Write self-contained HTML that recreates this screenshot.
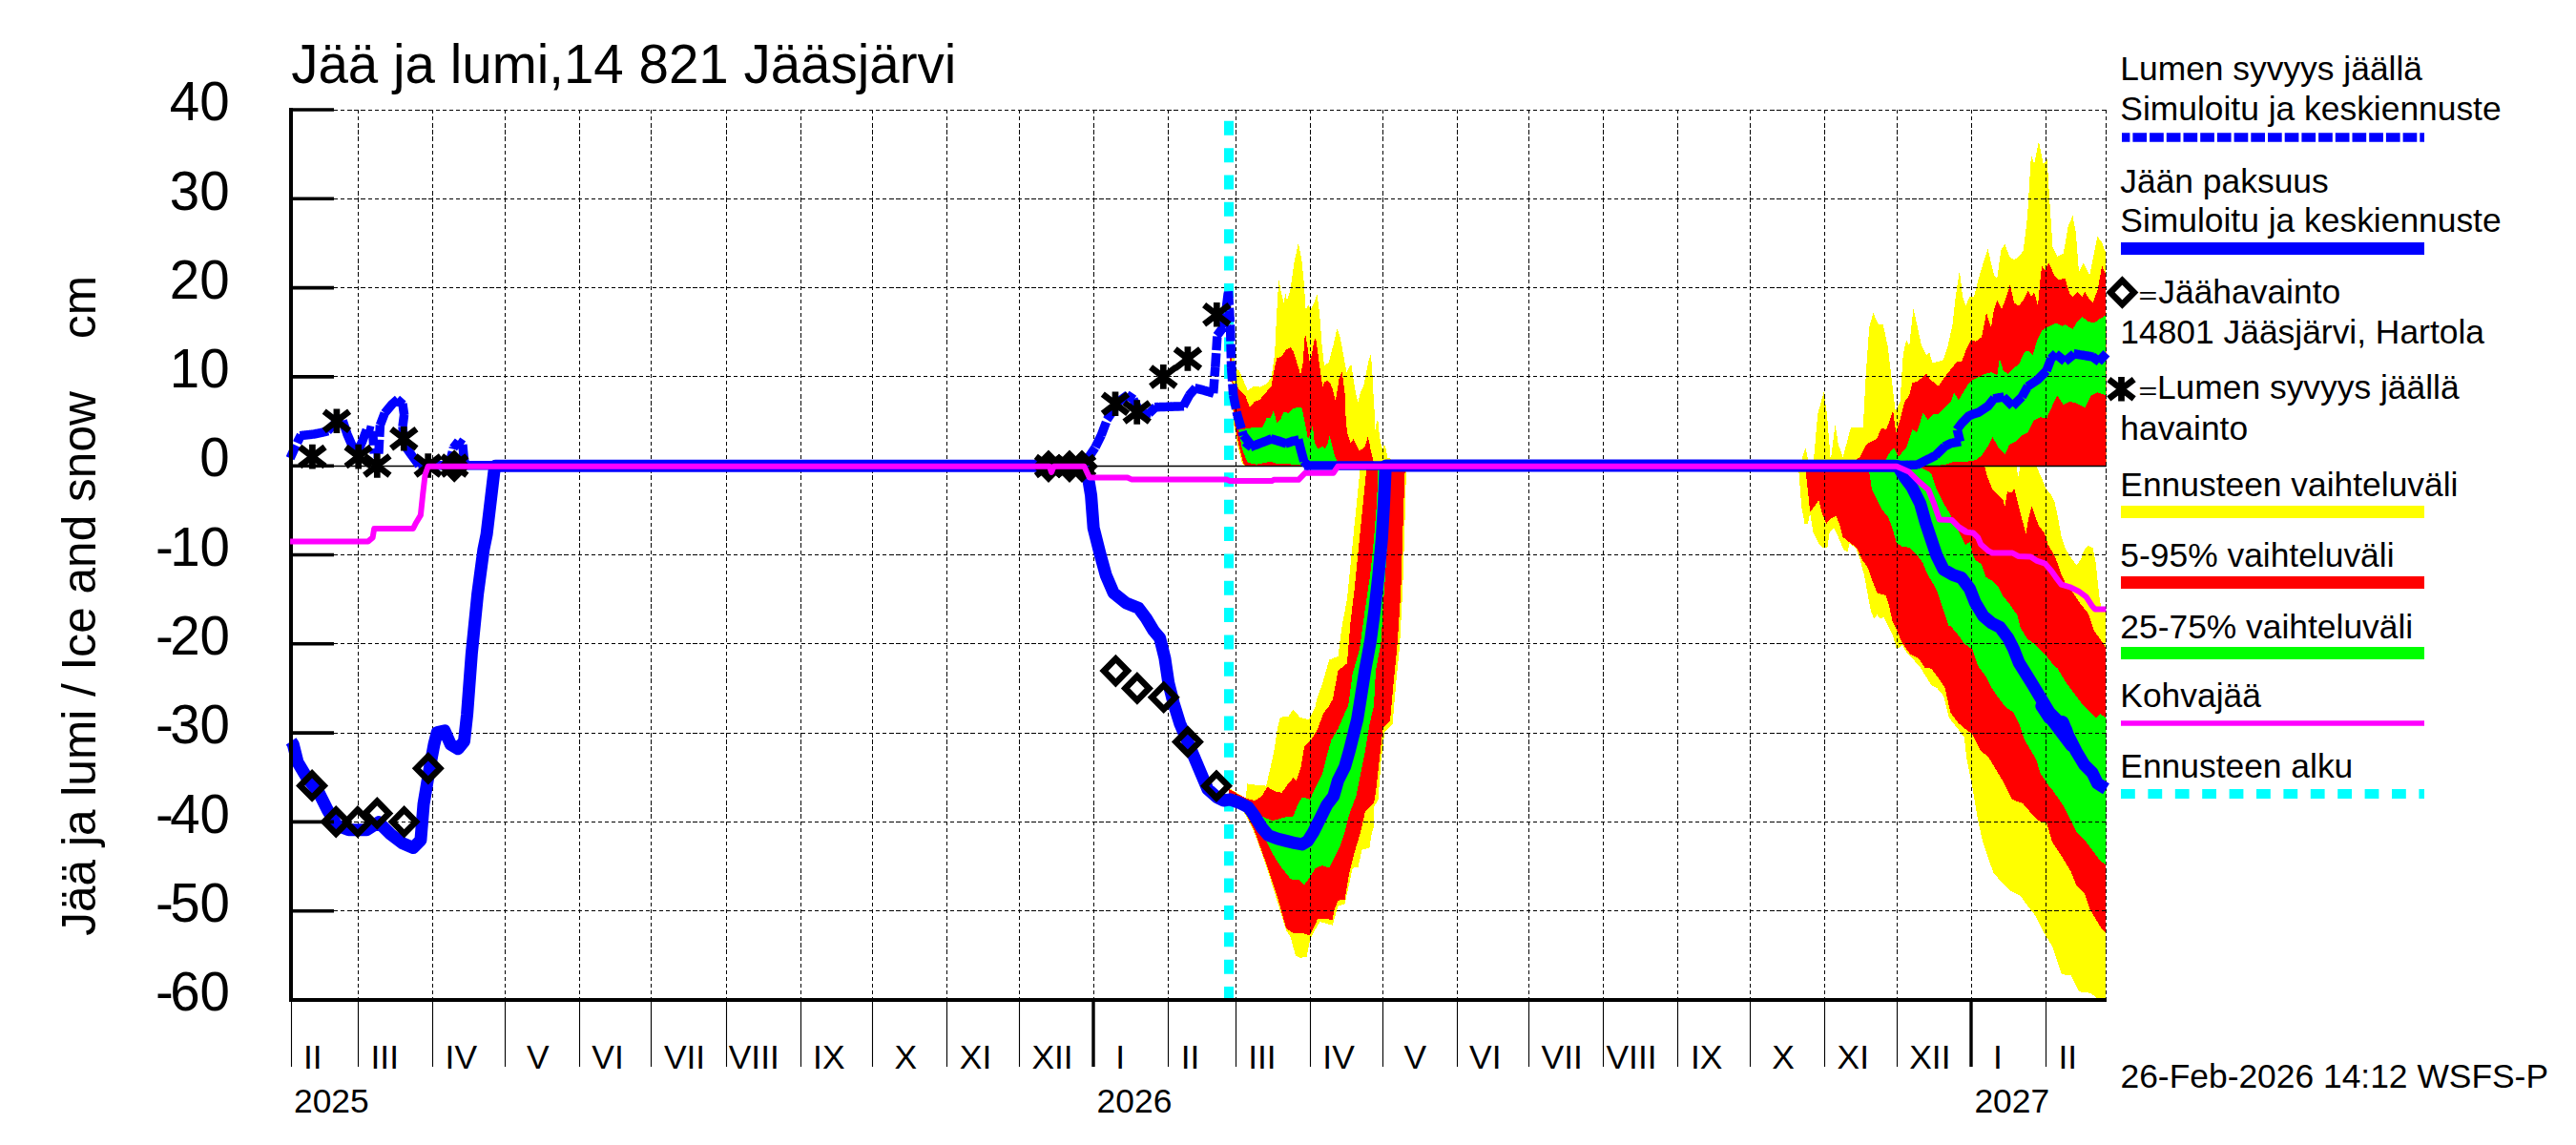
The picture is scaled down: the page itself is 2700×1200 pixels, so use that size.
<!DOCTYPE html>
<html lang="fi"><head><meta charset="utf-8"><title>Jää ja lumi, 14 821 Jääsjärvi</title>
<style>html,body{margin:0;padding:0;background:#fff;}body{width:2700px;height:1200px;overflow:hidden;}svg{display:block;}text{font-family:"Liberation Sans", Arial, Helvetica, sans-serif;fill:#000;}</style></head><body>
<svg width="2700" height="1200" viewBox="0 0 2700 1200">
<rect x="0" y="0" width="2700" height="1200" fill="#fff"/>
<clipPath id="cp"><rect x="305.0" y="115.0" width="1902.5" height="933.0"/></clipPath>
<g clip-path="url(#cp)">
<polygon points="1288.0,283.0 1289.0,340.0 1294.8,385.7 1298.3,388.1 1301.8,395.1 1307.7,409.3 1314.8,404.6 1320.7,405.7 1327.8,402.2 1332.5,395.1 1336.1,371.5 1338.4,324.4 1340.3,292.5 1343.1,307.8 1345.5,317.3 1347.4,307.8 1349.0,314.9 1352.6,303.1 1356.1,277.2 1360.8,254.8 1364.4,272.5 1366.7,296.1 1368.6,324.4 1371.4,319.6 1373.8,324.4 1377.3,317.3 1380.4,307.8 1383.2,329.1 1385.6,362.1 1388.0,383.3 1392.7,379.8 1397.4,362.1 1401.4,344.4 1404.5,352.7 1408.0,371.5 1411.5,390.4 1416.3,381.0 1418.1,394.5 1421.2,412.8 1423.6,421.4 1426.1,410.4 1429.1,405.5 1432.2,389.6 1434.6,377.3 1436.8,371.2 1438.3,388.3 1439.5,412.8 1440.7,431.2 1441.3,450.7 1443.2,440.9 1444.4,439.7 1445.0,449.5 1446.9,463.0 1449.3,471.5 1451.1,465.4 1453.0,471.5 1454.2,480.1 1457.9,480.7 1459.1,482.5 1460.0,488.2 1304.7,488.8 1301.8,484.8 1297.1,465.9 1292.9,442.3 1288.0,300.0" fill="#ffff00" shape-rendering="crispEdges"/>
<polygon points="1288.0,283.0 1289.5,400.0 1294.8,402.2 1299.5,409.3 1305.4,415.2 1310.1,427.0 1314.8,421.1 1320.7,418.7 1326.6,411.6 1332.5,404.6 1334.9,390.4 1338.4,375.1 1343.1,373.9 1347.8,366.8 1352.6,364.0 1356.1,369.2 1359.6,381.0 1363.2,392.8 1365.5,381.0 1367.9,349.1 1370.3,362.1 1372.6,378.6 1375.0,371.5 1377.3,357.4 1379.0,353.8 1383.9,388.3 1386.3,405.5 1388.1,400.6 1391.2,398.7 1394.3,401.8 1396.7,407.9 1399.8,420.2 1402.2,405.5 1404.0,394.5 1406.5,390.2 1407.7,396.9 1409.5,411.6 1410.8,443.4 1412.6,455.6 1415.7,464.8 1418.7,459.9 1421.8,466.6 1424.8,472.1 1428.5,470.3 1430.9,467.9 1433.4,458.1 1435.2,463.0 1437.1,474.0 1439.5,482.5 1440.0,488.2 1305.4,488.3 1303.0,484.8 1298.3,465.9 1293.6,442.3 1288.0,300.0" fill="#ff0000" shape-rendering="crispEdges"/>
<polygon points="1295.9,437.6 1298.3,450.6 1305.4,449.4 1312.5,448.2 1323.1,448.2 1327.8,437.6 1331.8,437.6 1334.9,430.5 1338.4,443.5 1342.0,440.0 1345.5,431.7 1350.2,432.9 1354.9,428.2 1360.8,427.0 1364.4,427.0 1366.7,437.6 1370.3,456.5 1371.0,460.5 1373.5,454.4 1375.9,445.8 1377.7,463.0 1380.2,469.1 1382.0,470.3 1385.7,467.9 1388.7,469.7 1391.2,466.6 1393.6,456.9 1396.1,466.6 1398.5,476.4 1401.0,482.5 1401.0,488.2 1364.4,487.6 1359.6,487.1 1347.8,486.0 1338.4,486.0 1331.3,483.6 1326.6,484.8 1317.2,486.7 1307.7,484.8 1301.8,470.6 1295.9,437.6" fill="#00ff00" shape-rendering="crispEdges"/>
<polygon points="1288.0,826.0 1305.9,836.6 1307.1,821.3 1315.3,822.5 1327.1,823.6 1330.7,808.3 1335.4,787.1 1338.9,763.6 1341.7,751.8 1350.7,750.6 1355.4,743.5 1362.5,751.8 1371.9,754.1 1379.0,740.0 1380.0,732.9 1385.6,717.9 1393.1,691.6 1402.5,687.8 1406.3,657.8 1411.9,627.7 1415.7,590.2 1419.4,552.6 1423.2,515.1 1425.8,488.8 1474.3,488.8 1473.5,507.6 1472.0,563.9 1470.1,620.2 1467.1,676.6 1463.4,714.1 1459.6,759.2 1451.4,766.7 1447.6,796.8 1444.6,838.1 1440.1,845.6 1440.0,867.2 1437.9,872.0 1435.5,888.4 1427.3,890.8 1423.7,908.5 1417.8,909.7 1416.7,914.4 1409.6,947.4 1402.5,949.7 1396.6,969.7 1383.7,966.2 1379.0,973.3 1373.1,985.1 1369.5,1002.7 1362.5,1003.9 1357.8,1001.5 1353.0,982.7 1348.3,975.6 1338.9,945.0 1327.1,907.3 1315.3,874.3 1305.9,854.3 1288.0,832.0" fill="#ffff00" shape-rendering="crispEdges"/>
<polygon points="1288.0,827.0 1305.9,836.6 1315.3,839.0 1322.4,834.3 1328.3,824.8 1336.6,829.5 1343.6,830.7 1349.5,822.5 1355.4,815.4 1358.9,817.8 1363.6,803.6 1367.2,782.4 1374.3,775.3 1381.3,763.6 1387.2,747.1 1393.1,740.0 1396.9,732.9 1402.5,702.9 1411.9,695.4 1415.7,650.3 1419.4,620.2 1423.2,582.7 1426.9,545.1 1430.7,507.6 1432.6,488.0 1472.8,488.8 1472.0,507.6 1470.1,563.9 1468.3,620.2 1464.5,676.6 1460.8,714.1 1457.0,755.4 1449.5,763.0 1445.7,796.8 1442.0,830.6 1440.0,841.3 1430.8,850.7 1426.1,872.0 1419.0,895.5 1414.3,914.4 1409.6,942.6 1402.5,943.8 1399.0,952.1 1396.6,963.8 1381.3,962.7 1376.6,973.3 1373.1,980.3 1364.8,978.0 1355.4,978.0 1348.3,973.3 1338.9,940.3 1327.1,904.9 1315.3,872.0 1305.9,853.1 1288.0,831.0" fill="#ff0000" shape-rendering="crispEdges"/>
<polygon points="1315.3,853.1 1322.4,855.5 1334.2,860.2 1346.0,856.6 1355.4,855.5 1360.1,843.7 1364.8,835.4 1373.1,837.8 1379.0,824.8 1386.0,810.7 1390.7,791.8 1395.5,775.3 1402.5,763.6 1409.6,747.1 1413.1,740.0 1417.6,706.6 1425.1,680.3 1430.7,639.0 1436.3,601.5 1440.1,563.9 1443.1,526.3 1444.6,488.8 1457.0,488.8 1456.2,526.3 1454.4,563.9 1452.1,601.5 1449.5,639.0 1447.6,672.8 1442.0,702.9 1440.0,740.0 1435.5,758.9 1430.8,787.1 1426.1,810.7 1421.4,834.3 1414.3,853.1 1409.6,872.0 1404.9,886.1 1397.8,900.2 1393.1,909.7 1386.0,907.3 1379.0,909.7 1373.1,919.1 1367.2,927.3 1362.5,922.6 1353.0,921.4 1343.6,909.7 1334.2,895.5 1327.1,881.4 1315.3,853.1" fill="#00ff00" shape-rendering="crispEdges"/>
<polygon points="1886.5,488.1 1892.3,469.4 1896.2,485.5 1901.0,482.3 1905.2,433.8 1911.7,410.5 1914.9,433.8 1918.8,482.3 1923.6,445.1 1926.9,466.1 1931.7,479.1 1939.8,448.4 1952.7,448.4 1956.0,388.6 1959.2,343.3 1963.4,327.8 1968.9,340.1 1973.7,340.1 1978.6,362.7 1982.8,398.3 1986.7,430.6 1991.5,420.9 1994.7,372.4 1998.0,356.2 2001.2,362.7 2005.4,323.3 2009.3,340.1 2014.1,362.7 2019.0,372.4 2022.2,369.2 2025.4,380.5 2031.9,378.9 2036.8,377.3 2041.6,362.7 2046.5,340.1 2049.7,311.0 2053.9,283.5 2057.1,311.0 2060.3,320.7 2064.2,311.0 2069.1,311.0 2073.9,291.6 2078.8,275.4 2083.6,260.9 2086.9,275.4 2090.1,288.4 2093.3,291.6 2097.2,262.5 2101.4,256.1 2106.2,269.0 2111.1,272.2 2115.9,269.0 2120.8,262.5 2125.0,227.0 2128.9,162.3 2132.1,172.0 2136.9,147.8 2141.8,172.0 2145.7,167.2 2148.3,210.8 2151.5,259.3 2156.3,269.0 2162.8,265.7 2167.7,236.7 2172.5,226.3 2175.7,243.1 2179.0,285.1 2183.8,275.4 2190.3,288.4 2198.4,248.0 2203.2,254.4 2207.4,265.7 2207.8,488.2 1886.0,488.2" fill="#ffff00" shape-rendering="crispEdges"/>
<polygon points="1943.0,488.1 1944.6,482.3 1949.5,479.1 1956.0,466.1 1960.8,462.9 1967.3,459.7 1972.1,448.4 1977.0,450.0 1980.8,440.3 1984.1,430.6 1987.3,453.2 1991.5,440.3 1996.4,420.9 2001.2,414.4 2004.4,401.5 2009.3,399.9 2015.7,395.0 2019.0,391.8 2023.8,398.3 2031.9,404.7 2038.4,395.0 2044.8,386.9 2051.3,378.9 2056.1,378.9 2061.0,365.9 2065.8,356.2 2070.7,357.9 2077.2,353.0 2082.0,327.8 2086.9,343.3 2090.1,323.9 2093.3,314.2 2098.2,323.9 2103.0,311.0 2106.9,298.1 2111.1,317.5 2115.9,320.7 2120.8,314.2 2125.6,304.5 2128.9,311.0 2132.1,306.1 2136.0,320.7 2138.6,291.6 2140.2,278.7 2143.4,283.5 2147.6,275.4 2153.1,288.4 2158.0,293.2 2164.4,291.6 2169.3,307.8 2172.5,311.0 2177.3,306.1 2182.2,311.0 2185.4,306.1 2190.3,314.2 2193.5,317.5 2198.4,304.5 2203.2,278.7 2207.4,288.4 2207.8,488.2 1943.0,488.2" fill="#ff0000" shape-rendering="crispEdges"/>
<polygon points="1975.3,488.1 1977.0,480.7 1981.8,472.6 1985.0,469.4 1989.9,479.1 1994.7,472.6 1998.0,469.4 2004.4,450.0 2009.3,453.2 2015.7,432.2 2020.6,440.3 2027.1,433.8 2031.9,433.8 2038.4,427.3 2044.8,420.9 2048.1,411.2 2052.9,419.3 2057.8,411.2 2062.6,403.1 2067.5,398.3 2073.9,395.0 2080.4,391.8 2086.9,390.2 2093.3,393.4 2095.9,375.6 2099.8,388.6 2104.6,391.8 2111.1,385.3 2115.9,382.1 2121.8,369.2 2125.6,367.6 2130.5,372.4 2135.3,356.2 2140.2,346.5 2145.0,343.3 2154.7,338.5 2161.2,341.7 2164.4,340.1 2169.3,343.3 2172.5,344.9 2177.3,336.9 2182.2,332.0 2188.7,336.9 2195.1,338.5 2201.6,333.6 2207.4,330.4 2207.4,414.4 2198.4,411.2 2191.9,414.4 2185.4,427.3 2175.7,422.5 2169.3,420.9 2162.8,424.1 2156.3,414.4 2153.1,420.9 2145.0,438.7 2138.6,437.0 2132.1,440.3 2125.6,453.2 2119.2,456.4 2112.7,462.9 2106.2,466.1 2101.4,475.8 2094.9,469.4 2088.5,458.1 2083.6,467.8 2077.2,477.4 2070.7,482.3 2061.0,483.9 2048.1,483.9 2038.4,487.1 2027.1,488.1 1975.3,488.1" fill="#00ff00" shape-rendering="crispEdges"/>
<polygon points="1885.0,488.2 2113.4,488.5 2115.4,500.1 2117.4,489.1 2134.5,489.1 2140.5,502.2 2144.5,512.2 2149.5,518.2 2153.5,526.3 2156.6,540.3 2160.6,562.4 2164.6,574.5 2170.6,584.5 2176.7,592.6 2180.7,586.6 2184.7,576.5 2188.7,571.5 2193.7,574.5 2196.8,590.6 2198.8,610.7 2200.8,628.8 2202.8,636.8 2207.4,638.8 2207.5,1046.2 2198.5,1046.2 2190.2,1040.6 2179.0,1039.2 2170.6,1022.4 2160.8,1021.0 2156.6,1008.5 2151.0,991.7 2142.6,977.7 2134.2,960.9 2124.4,948.3 2117.4,938.5 2106.3,933.0 2097.9,924.6 2089.5,914.8 2083.9,899.4 2078.3,882.6 2072.7,857.4 2067.1,823.9 2061.5,795.9 2058.7,772.6 2050.0,761.1 2042.8,752.4 2037.1,729.4 2029.9,720.7 2024.1,717.9 2013.0,699.9 2006.2,692.0 1999.4,685.1 1993.7,676.1 1988.0,680.6 1983.5,664.7 1979.0,655.6 1974.4,646.6 1971.0,648.8 1967.6,644.3 1964.2,648.8 1960.8,639.7 1957.4,621.6 1954.0,603.4 1949.4,585.3 1944.9,573.9 1938.1,569.4 1937.0,578.5 1932.4,576.2 1926.7,562.6 1922.2,553.5 1917.7,558.0 1915.4,573.9 1910.9,573.9 1906.3,569.4 1900.6,558.0 1897.2,537.6 1895.0,549.0 1891.6,549.0 1888.2,530.8 1885.4,494.5 1885.4,488.3" fill="#ffff00" shape-rendering="crispEdges"/>
<polygon points="1900.0,488.2 2080.2,489.1 2083.2,500.1 2088.2,512.2 2094.3,519.2 2099.3,523.3 2101.3,531.3 2103.9,515.2 2108.3,516.2 2111.3,512.2 2114.4,524.3 2118.4,540.3 2123.4,559.4 2126.4,542.3 2129.4,530.3 2132.4,538.3 2136.5,550.4 2142.5,558.4 2146.5,570.5 2152.5,580.5 2156.6,590.6 2160.6,602.6 2164.6,610.7 2172.6,620.7 2180.7,632.8 2188.7,642.8 2194.7,660.9 2200.8,669.0 2207.4,679.0 2207.5,977.7 2204.1,974.9 2198.5,966.5 2190.2,952.5 2184.6,935.7 2176.2,927.4 2170.6,913.4 2162.2,899.4 2151.0,882.6 2145.4,863.0 2137.0,860.2 2128.6,851.9 2120.2,842.1 2109.1,837.9 2100.7,821.1 2092.3,807.1 2083.9,793.1 2076.0,787.0 2067.3,769.7 2060.1,764.0 2052.9,758.2 2044.3,746.7 2038.5,720.7 2032.8,712.1 2024.1,700.6 2017.5,699.9 2010.7,689.7 2001.7,685.1 1993.7,673.8 1988.0,660.2 1983.5,651.1 1980.1,635.2 1976.7,623.9 1967.6,621.6 1963.1,610.2 1957.4,594.3 1951.7,586.4 1946.0,573.9 1938.1,568.2 1931.3,562.6 1927.9,549.0 1924.5,541.0 1918.8,543.3 1914.3,549.0 1909.7,537.6 1906.3,524.0 1901.8,530.8 1897.2,536.5 1895.0,514.9 1892.7,494.5 1892.7,488.3" fill="#ff0000" shape-rendering="crispEdges"/>
<polygon points="1959.3,488.2 2011.1,488.7 2024.1,495.9 2029.9,513.2 2037.1,527.6 2044.3,539.2 2050.0,550.7 2055.8,562.2 2060.1,570.9 2064.5,568.0 2067.3,579.5 2070.1,586.6 2077.2,591.6 2081.2,604.6 2088.2,608.7 2094.3,614.7 2099.3,624.7 2106.3,632.8 2114.4,644.8 2117.4,656.9 2124.4,669.0 2132.4,675.0 2138.5,681.0 2144.5,687.0 2152.5,697.1 2156.7,700.6 2165.3,715.0 2174.0,726.5 2182.6,738.0 2191.3,746.7 2197.0,752.4 2201.4,748.1 2207.7,752.4 2207.5,906.4 2201.3,902.2 2193.0,891.0 2184.6,879.8 2176.2,871.4 2167.8,854.7 2162.2,843.5 2152.4,829.5 2145.4,821.1 2138.4,809.9 2134.2,795.9 2130.7,789.9 2122.1,775.5 2116.3,758.2 2110.6,746.7 2101.9,740.9 2093.3,729.4 2087.5,720.7 2081.7,709.2 2073.1,697.7 2067.3,680.4 2058.7,674.6 2052.9,666.0 2044.3,655.9 2042.5,655.6 2035.7,635.2 2031.2,621.6 2026.6,612.5 2019.8,601.2 2015.3,589.8 2008.5,580.7 2001.7,573.9 1993.7,572.8 1988.0,569.4 1983.5,553.5 1979.0,542.1 1972.1,533.1 1967.6,524.0 1961.9,512.6 1959.2,494.5 1959.2,488.3" fill="#00ff00" shape-rendering="crispEdges"/>
</g>
<g stroke="#000" stroke-width="1" stroke-dasharray="4.3 2.8" fill="none" shape-rendering="crispEdges">
<line x1="375.5" y1="115.0" x2="375.5" y2="1048.0"/>
<line x1="453.5" y1="115.0" x2="453.5" y2="1048.0"/>
<line x1="529.5" y1="115.0" x2="529.5" y2="1048.0"/>
<line x1="607.5" y1="115.0" x2="607.5" y2="1048.0"/>
<line x1="682.5" y1="115.0" x2="682.5" y2="1048.0"/>
<line x1="761.5" y1="115.0" x2="761.5" y2="1048.0"/>
<line x1="839.5" y1="115.0" x2="839.5" y2="1048.0"/>
<line x1="914.5" y1="115.0" x2="914.5" y2="1048.0"/>
<line x1="992.5" y1="115.0" x2="992.5" y2="1048.0"/>
<line x1="1068.5" y1="115.0" x2="1068.5" y2="1048.0"/>
<line x1="1146.5" y1="115.0" x2="1146.5" y2="1048.0"/>
<line x1="1224.5" y1="115.0" x2="1224.5" y2="1048.0"/>
<line x1="1295.5" y1="115.0" x2="1295.5" y2="1048.0"/>
<line x1="1373.5" y1="115.0" x2="1373.5" y2="1048.0"/>
<line x1="1449.5" y1="115.0" x2="1449.5" y2="1048.0"/>
<line x1="1527.5" y1="115.0" x2="1527.5" y2="1048.0"/>
<line x1="1602.5" y1="115.0" x2="1602.5" y2="1048.0"/>
<line x1="1680.5" y1="115.0" x2="1680.5" y2="1048.0"/>
<line x1="1758.5" y1="115.0" x2="1758.5" y2="1048.0"/>
<line x1="1834.5" y1="115.0" x2="1834.5" y2="1048.0"/>
<line x1="1912.5" y1="115.0" x2="1912.5" y2="1048.0"/>
<line x1="1988.5" y1="115.0" x2="1988.5" y2="1048.0"/>
<line x1="2066.5" y1="115.0" x2="2066.5" y2="1048.0"/>
<line x1="2144.5" y1="115.0" x2="2144.5" y2="1048.0"/>
<line x1="2207.5" y1="115.0" x2="2207.5" y2="1048.0"/>
<line x1="350.0" y1="954.5" x2="2207.5" y2="954.5"/>
<line x1="350.0" y1="861.5" x2="2207.5" y2="861.5"/>
<line x1="350.0" y1="768.5" x2="2207.5" y2="768.5"/>
<line x1="350.0" y1="674.5" x2="2207.5" y2="674.5"/>
<line x1="350.0" y1="581.5" x2="2207.5" y2="581.5"/>
<line x1="350.0" y1="394.5" x2="2207.5" y2="394.5"/>
<line x1="350.0" y1="301.5" x2="2207.5" y2="301.5"/>
<line x1="350.0" y1="208.5" x2="2207.5" y2="208.5"/>
<line x1="350.0" y1="115.5" x2="2207.5" y2="115.5"/>
</g>
<line x1="305.0" y1="488.5" x2="2207.5" y2="488.5" stroke="#000" stroke-width="1.4"/>
<line x1="1288" y1="1049" x2="1288" y2="115.0" stroke="#00ffff" stroke-width="10" stroke-dasharray="15 13.35"/>
<g fill="none" stroke-linejoin="round">
<polyline points="305.1,776.9 307.3,780.1 312.0,798.9 321.4,814.6 334.0,830.4 343.4,849.2 352.9,864.9 365.4,869.7 384.3,869.7 396.9,861.8 409.5,874.4 422.0,883.8 433.0,888.5 440.9,880.7 444.0,842.9 450.3,805.2 455.0,780.1 458.2,767.5 466.0,765.9 472.3,780.1 480.2,784.8 486.5,776.9 489.6,748.6 494.3,685.7 500.6,622.9 506.9,575.7 510.1,560.0 517.9,494.3 519.5,488.2 1137.5,488.2 1139.7,495.7 1143.6,519.3 1146.2,553.4 1152.8,579.6 1159.3,603.2 1167.2,621.5 1180.3,632.0 1193.4,637.3 1201.3,647.8 1209.1,660.9 1215.7,668.7 1220.9,689.7 1224.8,715.9 1230.1,736.9 1236.6,757.9 1243.2,773.6 1265.9,827.2 1275.3,835.4 1282.4,839.0 1289.4,837.8 1298.9,841.3 1308.3,846.0 1315.3,855.5 1322.4,867.2 1329.5,875.5 1338.9,879.0 1348.3,881.4 1357.8,883.7 1364.8,884.9 1370.7,881.4 1376.6,872.0 1383.7,857.8 1390.7,843.7 1397.8,834.3 1402.5,817.8 1409.6,803.6 1414.3,787.1 1419.0,768.3 1422.6,754.1 1424.9,740.0 1430.7,702.9 1436.3,672.8 1440.8,639.0 1445.0,601.5 1448.4,563.9 1450.6,526.3 1452.1,492.5 1452.5,488.0 1985.0,488.2 1989.5,488.7 1995.3,498.8 2003.9,510.3 2012.6,527.6 2018.3,547.8 2024.1,565.1 2029.9,582.4 2037.1,596.8 2047.2,602.6 2055.8,605.5 2064.5,617.0 2070.2,631.4 2078.9,645.8 2087.5,653.0 2096.2,657.3 2104.8,668.9 2110.6,680.4 2116.3,694.8 2123.5,706.3 2130.7,717.9 2139.4,732.3 2148.0,746.7 2156.7,755.3 2165.3,764.0 2171.1,781.3 2139.8,740.0 2148.2,752.6 2162.2,756.8 2167.8,770.8 2176.2,787.5 2184.6,801.5 2193.0,809.9 2198.5,821.1 2207.5,826.7" stroke="#0000ff" stroke-width="13" stroke-linecap="butt"/>
<path d="M304.1 480.2L312.0 462.9M311.7 463.5L315.5 456.0M314.4 456.7L318.2 456.2M316.8 456.4L320.6 456.0M319.2 456.1L322.9 455.7M321.5 455.9L325.3 455.5M323.9 455.6L327.6 455.2M326.2 455.3L330.0 454.9M328.6 455.2L332.3 454.3M331.0 454.6L334.7 453.8M333.3 454.1L337.0 453.3M335.7 453.6L339.4 452.8M338.0 453.1L341.8 452.2M340.4 452.5L344.1 451.7M343.4 451.9L352.9 441.6M352.2 441.7L355.7 441.3M354.3 441.5L357.7 441.0M356.4 441.2L359.8 440.8M359.1 440.9L363.9 455.0M363.6 454.4L368.9 466.7M368.1 465.5L375.3 474.4M374.6 474.5L379.9 462.2M379.6 462.9L384.3 450.3M383.6 450.1L387.1 451.0M385.7 450.6L389.2 451.5M387.8 451.2L391.3 452.0M390.6 451.9L392.2 475.4M391.5 475.4L395.2 475.4M393.8 475.4L397.6 475.4M396.9 475.4L398.4 445.6M398.4 445.6L403.2 433.0M403.2 433.0L411.0 423.6M410.5 424.0L417.0 418.4M416.0 418.4L422.5 424.0M421.9 422.9L423.7 435.3M423.6 434.6L422.0 447.1M422.0 447.1L423.6 466.0M423.6 466.0L431.4 477.0M431.4 477.0L439.3 487.7M438.6 487.7L442.4 487.7M441.0 487.7L444.8 487.7M443.4 487.7L447.3 487.7M445.9 487.7L449.7 487.7M448.3 487.7L452.1 487.7M450.7 487.7L454.5 487.7M453.1 487.7L456.9 487.7M455.5 487.7L459.3 487.7M457.9 487.7L461.8 487.7M460.4 487.7L464.2 487.7M462.8 487.7L466.6 487.7M465.2 487.7L469.0 487.7M467.6 487.7L471.4 487.7M470.7 487.7L475.4 469.1M475.0 469.7L480.6 462.3M479.6 462.5L485.5 466.4M484.9 466.0L486.4 481.7M486.3 481.0L488.2 488.4M487.3 487.7L491.2 487.7M489.8 487.7L493.7 487.7M492.3 487.7L496.3 487.7M494.9 487.7L498.8 487.7M497.4 487.7L501.3 487.7M499.9 487.7L503.8 487.7M502.4 487.7L506.3 487.7M504.9 487.7L508.8 487.7M507.4 487.7L511.3 487.7M509.9 487.7L513.9 487.7M512.5 487.7L516.4 487.7M515.0 487.7L518.9 487.7M517.5 487.7L521.4 487.7M520.0 487.7L523.9 487.7M522.5 487.7L526.4 487.7M525.0 487.7L528.9 487.7M527.5 487.7L531.4 487.7M530.0 487.7L534.0 487.7M532.6 487.7L536.5 487.7M535.1 487.7L539.0 487.7M537.6 487.7L541.5 487.7M540.1 487.7L544.0 487.7M542.6 487.7L546.5 487.7M545.1 487.7L549.0 487.7M547.6 487.7L551.6 487.7M550.2 487.7L554.1 487.7M552.7 487.7L556.6 487.7M555.2 487.7L559.1 487.7M557.7 487.7L561.6 487.7M560.2 487.7L564.1 487.7M562.7 487.7L566.6 487.7M565.2 487.7L569.1 487.7M567.7 487.7L571.7 487.7M570.3 487.7L574.2 487.7M572.8 487.7L576.7 487.7M575.3 487.7L579.2 487.7M577.8 487.7L581.7 487.7M580.3 487.7L584.2 487.7M582.8 487.7L586.7 487.7M585.3 487.7L589.3 487.7M587.9 487.7L591.8 487.7M590.4 487.7L594.3 487.7M592.9 487.7L596.8 487.7M595.4 487.7L599.3 487.7M597.9 487.7L601.8 487.7M600.4 487.7L604.3 487.7M602.9 487.7L606.9 487.7M605.5 487.7L609.4 487.7M608.0 487.7L611.9 487.7M610.5 487.7L614.4 487.7M613.0 487.7L616.9 487.7M615.5 487.7L619.4 487.7M618.0 487.7L621.9 487.7M620.5 487.7L624.4 487.7M623.0 487.7L627.0 487.7M625.6 487.7L629.5 487.7M628.1 487.7L632.0 487.7M630.6 487.7L634.5 487.7M633.1 487.7L637.0 487.7M635.6 487.7L639.5 487.7M638.1 487.7L642.0 487.7M640.6 487.7L644.6 487.7M643.2 487.7L647.1 487.7M645.7 487.7L649.6 487.7M648.2 487.7L652.1 487.7M650.7 487.7L654.6 487.7M653.2 487.7L657.1 487.7M655.7 487.7L659.6 487.7M658.2 487.7L662.1 487.7M660.7 487.7L664.7 487.8M663.3 487.7L667.2 487.8M665.8 487.8L669.7 487.8M668.3 487.8L672.2 487.8M670.8 487.8L674.7 487.8M673.3 487.8L677.2 487.8M675.8 487.8L679.7 487.8M678.3 487.8L682.3 487.8M680.9 487.8L684.8 487.8M683.4 487.8L687.3 487.8M685.9 487.8L689.8 487.8M688.4 487.8L692.3 487.8M690.9 487.8L694.8 487.8M693.4 487.8L697.3 487.8M695.9 487.8L699.8 487.8M698.4 487.8L702.4 487.8M701.0 487.8L704.9 487.8M703.5 487.8L707.4 487.8M706.0 487.8L709.9 487.8M708.5 487.8L712.4 487.8M711.0 487.8L714.9 487.8M713.5 487.8L717.4 487.8M716.0 487.8L720.0 487.8M718.6 487.8L722.5 487.8M721.1 487.8L725.0 487.8M723.6 487.8L727.5 487.8M726.1 487.8L730.0 487.8M728.6 487.8L732.5 487.8M731.1 487.8L735.0 487.8M733.6 487.8L737.6 487.8M736.2 487.8L740.1 487.8M738.7 487.8L742.6 487.8M741.2 487.8L745.1 487.8M743.7 487.8L747.6 487.8M746.2 487.8L750.1 487.8M748.7 487.8L752.6 487.8M751.2 487.8L755.1 487.8M753.7 487.8L757.7 487.8M756.3 487.8L760.2 487.8M758.8 487.8L762.7 487.8M761.3 487.8L765.2 487.8M763.8 487.8L767.7 487.8M766.3 487.8L770.2 487.8M768.8 487.8L772.7 487.8M771.3 487.8L775.3 487.8M773.9 487.8L777.8 487.8M776.4 487.8L780.3 487.8M778.9 487.8L782.8 487.8M781.4 487.8L785.3 487.8M783.9 487.8L787.8 487.8M786.4 487.8L790.3 487.8M788.9 487.8L792.8 487.8M791.4 487.8L795.4 487.8M794.0 487.8L797.9 487.8M796.5 487.8L800.4 487.8M799.0 487.8L802.9 487.8M801.5 487.8L805.4 487.8M804.0 487.8L807.9 487.8M806.5 487.8L810.4 487.8M809.0 487.8L813.0 487.8M811.6 487.8L815.5 487.8M814.1 487.8L818.0 487.8M816.6 487.8L820.5 487.8M819.1 487.8L823.0 487.8M821.6 487.8L825.5 487.8M824.1 487.8L828.0 487.8M826.6 487.8L830.5 487.8M829.1 487.8L833.1 487.8M831.7 487.8L835.6 487.8M834.2 487.8L838.1 487.8M836.7 487.8L840.6 487.8M839.2 487.8L843.1 487.8M841.7 487.8L845.6 487.8M844.2 487.8L848.1 487.8M846.7 487.8L850.7 487.8M849.3 487.8L853.2 487.8M851.8 487.8L855.7 487.8M854.3 487.8L858.2 487.8M856.8 487.8L860.7 487.8M859.3 487.8L863.2 487.8M861.8 487.8L865.7 487.8M864.3 487.8L868.2 487.8M866.8 487.8L870.8 487.8M869.4 487.8L873.3 487.8M871.9 487.8L875.8 487.8M874.4 487.8L878.3 487.8M876.9 487.8L880.8 487.8M879.4 487.8L883.3 487.8M881.9 487.8L885.8 487.8M884.4 487.8L888.4 487.8M887.0 487.8L890.9 487.8M889.5 487.8L893.4 487.8M892.0 487.8L895.9 487.8M894.5 487.8L898.4 487.8M897.0 487.8L900.9 487.8M899.5 487.8L903.4 487.8M902.0 487.8L906.0 487.8M904.6 487.8L908.5 487.8M907.1 487.8L911.0 487.8M909.6 487.8L913.5 487.8M912.1 487.8L916.0 487.8M914.6 487.8L918.5 487.8M917.1 487.8L921.0 487.8M919.6 487.8L923.5 487.8M922.1 487.8L926.1 487.8M924.7 487.8L928.6 487.8M927.2 487.8L931.1 487.8M929.7 487.8L933.6 487.8M932.2 487.8L936.1 487.8M934.7 487.8L938.6 487.8M937.2 487.8L941.1 487.8M939.7 487.8L943.7 487.8M942.3 487.8L946.2 487.8M944.8 487.8L948.7 487.8M947.3 487.8L951.2 487.8M949.8 487.8L953.7 487.8M952.3 487.8L956.2 487.8M954.8 487.8L958.7 487.8M957.3 487.8L961.2 487.8M959.8 487.8L963.8 487.8M962.4 487.8L966.3 487.8M964.9 487.8L968.8 487.8M967.4 487.8L971.3 487.8M969.9 487.8L973.8 487.8M972.4 487.8L976.3 487.8M974.9 487.8L978.8 487.8M977.4 487.8L981.4 487.9M980.0 487.8L983.9 487.9M982.5 487.9L986.4 487.9M985.0 487.9L988.9 487.9M987.5 487.9L991.4 487.9M990.0 487.9L993.9 487.9M992.5 487.9L996.4 487.9M995.0 487.9L998.9 487.9M997.5 487.9L1001.5 487.9M1000.1 487.9L1004.0 487.9M1002.6 487.9L1006.5 487.9M1005.1 487.9L1009.0 487.9M1007.6 487.9L1011.5 487.9M1010.1 487.9L1014.0 487.9M1012.6 487.9L1016.5 487.9M1015.1 487.9L1019.1 487.9M1017.7 487.9L1021.6 487.9M1020.2 487.9L1024.1 487.9M1022.7 487.9L1026.6 487.9M1025.2 487.9L1029.1 487.9M1027.7 487.9L1031.6 487.9M1030.2 487.9L1034.1 487.9M1032.7 487.9L1036.6 487.9M1035.2 487.9L1039.2 487.9M1037.8 487.9L1041.7 487.9M1040.3 487.9L1044.2 487.9M1042.8 487.9L1046.7 487.9M1045.3 487.9L1049.2 487.9M1047.8 487.9L1051.7 487.9M1050.3 487.9L1054.2 487.9M1052.8 487.9L1056.8 487.9M1055.4 487.9L1059.3 487.9M1057.9 487.9L1061.8 487.9M1060.4 487.9L1064.3 487.9M1062.9 487.9L1066.8 487.9M1065.4 487.9L1069.3 487.9M1067.9 487.9L1071.8 487.9M1070.4 487.9L1074.4 487.9M1073.0 487.9L1076.9 487.9M1075.5 487.9L1079.4 487.9M1078.0 487.9L1081.9 487.9M1080.5 487.9L1084.4 487.9M1083.0 487.9L1086.9 487.9M1085.5 487.9L1089.4 487.9M1088.0 487.9L1091.9 487.9M1090.5 487.9L1094.5 487.9M1093.1 487.9L1097.0 487.9M1095.6 487.9L1099.5 487.9M1098.1 487.9L1102.0 487.9M1100.6 487.9L1104.5 487.9M1103.1 487.9L1107.0 487.9M1105.6 487.9L1109.5 487.9M1108.1 487.9L1112.1 487.9M1110.7 487.9L1114.6 487.9M1113.2 487.9L1117.1 487.9M1115.7 487.9L1119.6 487.9M1118.2 487.9L1122.1 487.9M1120.7 487.9L1124.6 487.9M1123.2 487.9L1127.1 487.9M1125.7 487.9L1129.6 487.9M1128.2 487.9L1132.2 487.9M1130.8 487.9L1134.7 487.9M1133.3 487.9L1137.2 487.9M1135.8 487.9L1139.7 487.9M1138.9 488.6L1139.7 480.6M1139.7 481.3L1148.1 468.7M1148.1 468.7L1154.3 456.1M1154.3 456.1L1160.6 439.3M1160.2 439.9L1165.2 432.5M1164.8 433.0L1173.2 420.5M1172.6 420.9L1182.2 413.8M1181.0 413.8L1188.5 418.8M1187.9 418.4L1196.3 435.1M1195.6 435.3L1199.0 434.4M1197.7 434.8L1201.1 433.9M1199.8 434.3L1203.2 433.4M1201.9 433.7L1205.3 432.9M1204.2 433.5L1211.4 426.3M1210.2 426.8L1214.1 426.6M1212.7 426.7L1216.5 426.6M1215.1 426.6L1219.0 426.5M1217.6 426.5L1221.4 426.4M1220.0 426.4L1223.9 426.3M1222.5 426.3L1226.3 426.2M1224.9 426.3L1228.8 426.1M1227.4 426.2L1231.2 426.0M1229.8 426.1L1233.7 425.9M1232.3 426.0L1236.1 425.9M1234.7 425.9L1238.5 425.8M1237.1 425.8L1241.0 425.7M1240.3 425.7L1246.6 414.2M1246.1 414.7L1253.3 406.3M1252.2 406.7L1255.6 407.5M1254.3 407.2L1257.7 408.1M1256.4 407.7L1259.8 408.6M1258.5 408.2L1261.9 409.1M1260.6 408.7L1264.0 409.8M1262.7 409.4L1266.1 410.4M1264.8 410.0L1268.2 411.0M1266.9 410.6L1270.3 411.6M1269.0 411.2L1272.4 412.3M1271.7 412.1L1273.8 384.8M1273.8 384.8L1275.9 351.3M1275.5 351.8L1282.6 342.3M1282.2 342.9L1285.4 321.9M1285.4 321.9L1287.5 305.2M1287.5 305.2L1289.6 342.9M1289.6 342.9L1290.6 384.8M1290.6 384.8L1292.7 414.2M1292.7 414.2L1296.9 435.1M1296.9 435.1L1303.2 456.1M1303.2 456.1L1311.6 466.6M1312.2 466.9L1308.9 465.3M1310.1 465.9L1306.8 464.2M1308.1 464.9L1304.8 463.2M1304.8 463.1L1311.8 468.7M1310.6 468.5L1313.9 467.2M1312.6 467.7L1315.9 466.4M1314.6 467.0L1317.8 465.6M1316.5 466.2L1320.2 464.8M1318.9 465.3L1322.6 463.9M1321.2 464.4L1324.9 463.0M1323.6 463.5L1327.3 462.1M1326.0 462.6L1329.2 461.3M1327.9 461.8L1331.2 460.5M1329.9 461.1L1333.2 459.7M1331.8 459.8L1335.3 460.8M1333.9 460.4L1337.3 461.4M1336.0 461.0L1339.4 462.0M1338.0 461.6L1341.4 462.6M1340.1 462.1L1343.8 463.4M1342.5 462.9L1346.2 464.2M1344.8 463.7L1348.5 464.9M1347.2 464.9L1350.9 463.7M1349.5 464.2L1353.2 462.9M1351.9 463.4L1355.6 462.1M1354.2 462.5L1357.6 461.8M1356.2 462.1L1359.5 461.4M1358.2 461.7L1361.5 461.0M1360.7 460.5L1363.4 471.3M1363.2 470.6L1366.7 483.6M1366.2 483.1L1371.9 488.8M1372.1 488.4L1369.0 488.0M1370.4 488.2L1367.3 487.8M1367.3 487.9L1371.2 487.9M1369.8 487.9L1373.7 487.9M1372.3 487.9L1376.3 487.9M1374.9 487.9L1378.8 487.9M1377.4 487.9L1381.3 487.9M1379.9 487.9L1383.8 487.9M1382.4 487.9L1386.3 487.9M1384.9 487.9L1388.8 487.9M1387.4 487.9L1391.4 487.9M1390.0 487.9L1393.9 487.9M1392.5 487.9L1396.4 487.9M1395.0 487.9L1398.9 487.9M1397.5 487.9L1401.4 487.9M1400.0 487.9L1404.0 487.9M1402.6 487.9L1406.5 487.9M1405.1 487.9L1409.0 487.9M1407.6 487.9L1411.5 487.9M1410.1 487.9L1414.0 487.9M1412.6 487.9L1416.6 487.9M1415.2 487.9L1419.1 487.9M1417.7 487.9L1421.6 487.9M1420.2 487.9L1424.1 487.9M1422.7 487.9L1426.6 487.9M1425.2 487.9L1429.1 487.9M1427.7 487.9L1431.7 487.9M1430.3 487.9L1434.2 487.9M1432.8 487.9L1436.7 487.9M1435.3 487.9L1439.2 487.9M1437.8 487.9L1441.7 487.9M1440.3 487.9L1444.3 487.9M1442.9 487.9L1446.8 487.9M1445.4 487.9L1449.3 487.9M1447.9 487.9L1451.8 487.9M1450.4 487.9L1454.3 487.9M1452.9 487.9L1456.9 487.9M1455.5 487.9L1459.4 487.9M1458.0 487.9L1461.9 487.9M1460.5 487.9L1464.4 487.9M1463.0 487.9L1466.9 487.9M1465.5 487.9L1469.4 487.9M1468.0 487.9L1472.0 487.9M1470.6 487.9L1474.5 487.9M1473.1 487.9L1477.0 487.9M1475.6 487.9L1479.5 487.9M1478.1 487.9L1482.0 487.9M1480.6 487.9L1484.6 487.9M1483.2 487.9L1487.1 487.9M1485.7 487.9L1489.6 487.9M1488.2 487.9L1492.1 487.9M1490.7 487.9L1494.6 487.9M1493.2 487.9L1497.2 487.9M1495.8 487.9L1499.7 487.9M1498.3 487.9L1502.2 487.9M1500.8 487.9L1504.7 487.9M1503.3 487.9L1507.2 487.9M1505.8 487.9L1509.7 487.9M1508.3 487.9L1512.3 487.9M1510.9 487.9L1514.8 487.9M1513.4 487.9L1517.3 487.9M1515.9 487.9L1519.8 487.9M1518.4 487.9L1522.3 487.9M1520.9 487.9L1524.9 487.9M1523.5 487.9L1527.4 487.9M1526.0 487.9L1529.9 487.9M1528.5 487.9L1532.4 487.9M1531.0 487.9L1534.9 487.9M1533.5 487.9L1537.5 487.9M1536.1 487.9L1540.0 487.9M1538.6 487.9L1542.5 487.9M1541.1 487.9L1545.0 487.9M1543.6 487.9L1547.5 487.9M1546.1 487.9L1550.0 487.9M1548.6 487.9L1552.6 487.9M1551.2 487.9L1555.1 487.9M1553.7 487.9L1557.6 487.9M1556.2 487.9L1560.1 487.9M1558.7 487.9L1562.6 487.9M1561.2 487.9L1565.2 487.9M1563.8 487.9L1567.7 487.9M1566.3 487.9L1570.2 487.9M1568.8 487.9L1572.7 487.9M1571.3 487.9L1575.2 487.9M1573.8 487.9L1577.7 487.9M1576.3 487.9L1580.3 487.9M1578.9 487.9L1582.8 487.9M1581.4 487.9L1585.3 487.9M1583.9 487.9L1587.8 487.9M1586.4 487.9L1590.3 487.9M1588.9 487.9L1592.9 487.9M1591.5 487.9L1595.4 487.9M1594.0 487.9L1597.9 487.9M1596.5 487.9L1600.4 487.9M1599.0 487.9L1602.9 487.9M1601.5 487.9L1605.5 487.9M1604.1 487.9L1608.0 487.9M1606.6 487.9L1610.5 487.9M1609.1 487.9L1613.0 487.9M1611.6 487.9L1615.5 487.9M1614.1 487.9L1618.0 487.9M1616.6 487.9L1620.6 487.9M1619.2 487.9L1623.1 487.9M1621.7 487.9L1625.6 487.9M1624.2 487.9L1628.1 487.9M1626.7 487.9L1630.6 487.9M1629.2 487.9L1633.2 487.9M1631.8 487.9L1635.7 487.9M1634.3 487.9L1638.2 487.9M1636.8 487.9L1640.7 487.9M1639.3 487.9L1643.2 487.9M1641.8 487.9L1645.8 487.9M1644.4 487.9L1648.3 487.9M1646.9 487.9L1650.8 487.9M1649.4 487.9L1653.3 487.9M1651.9 487.9L1655.8 487.9M1654.4 487.9L1658.3 487.9M1656.9 487.9L1660.9 487.9M1659.5 487.9L1663.4 487.9M1662.0 487.9L1665.9 487.9M1664.5 487.9L1668.4 487.9M1667.0 487.9L1670.9 487.9M1669.5 487.9L1673.5 487.9M1672.1 487.9L1676.0 487.9M1674.6 487.9L1678.5 487.9M1677.1 487.9L1681.0 487.9M1679.6 487.9L1683.5 487.9M1682.1 487.9L1686.1 487.9M1684.7 487.9L1688.6 487.9M1687.2 487.9L1691.1 487.9M1689.7 487.9L1693.6 487.9M1692.2 487.9L1696.1 487.9M1694.7 487.9L1698.6 487.9M1697.2 487.9L1701.2 487.9M1699.8 487.9L1703.7 487.9M1702.3 487.9L1706.2 487.9M1704.8 487.9L1708.7 487.9M1707.3 487.9L1711.2 487.9M1709.8 487.9L1713.8 487.9M1712.4 487.9L1716.3 487.9M1714.9 487.9L1718.8 487.9M1717.4 487.9L1721.3 487.9M1719.9 487.9L1723.8 487.9M1722.4 487.9L1726.4 487.9M1725.0 487.9L1728.9 487.9M1727.5 487.9L1731.4 487.9M1730.0 487.9L1733.9 487.9M1732.5 487.9L1736.4 487.9M1735.0 487.9L1738.9 487.9M1737.5 487.9L1741.5 487.9M1740.1 487.9L1744.0 487.9M1742.6 487.9L1746.5 487.9M1745.1 487.9L1749.0 487.9M1747.6 487.9L1751.5 487.9M1750.1 487.9L1754.1 487.9M1752.7 487.9L1756.6 487.9M1755.2 487.9L1759.1 487.9M1757.7 487.9L1761.6 487.9M1760.2 487.9L1764.1 487.9M1762.7 487.9L1766.7 487.9M1765.3 487.9L1769.2 487.9M1767.8 487.9L1771.7 487.9M1770.3 487.9L1774.2 487.9M1772.8 487.9L1776.7 487.9M1775.3 487.9L1779.2 487.9M1777.8 487.9L1781.8 487.9M1780.4 487.9L1784.3 487.9M1782.9 487.9L1786.8 487.9M1785.4 487.9L1789.3 487.9M1787.9 487.9L1791.8 487.9M1790.4 487.9L1794.4 487.9M1793.0 487.9L1796.9 487.9M1795.5 487.9L1799.4 487.9M1798.0 487.9L1801.9 487.9M1800.5 487.9L1804.4 487.9M1803.0 487.9L1806.9 487.9M1805.5 487.9L1809.5 487.9M1808.1 487.9L1812.0 487.9M1810.6 487.9L1814.5 487.9M1813.1 487.9L1817.0 487.9M1815.6 487.9L1819.5 487.9M1818.1 487.9L1822.1 487.9M1820.7 487.9L1824.6 487.9M1823.2 487.9L1827.1 487.9M1825.7 487.9L1829.6 487.9M1828.2 487.9L1832.1 487.9M1830.7 487.9L1834.7 487.9M1833.3 487.9L1837.2 487.9M1835.8 487.9L1839.7 487.9M1838.3 487.9L1842.2 487.9M1840.8 487.9L1844.7 487.9M1843.3 487.9L1847.2 487.9M1845.8 487.9L1849.8 487.9M1848.4 487.9L1852.3 487.9M1850.9 487.9L1854.8 487.9M1853.4 487.9L1857.3 487.9M1855.9 487.9L1859.8 487.9M1858.4 487.9L1862.4 487.9M1861.0 487.9L1864.9 487.9M1863.5 487.9L1867.4 487.9M1866.0 487.9L1869.9 487.9M1868.5 487.9L1872.4 487.9M1871.0 487.9L1875.0 487.9M1873.6 487.9L1877.5 487.9M1876.1 487.9L1880.0 487.9M1878.6 487.9L1882.5 487.9M1881.1 487.9L1885.0 487.9M1883.6 487.9L1887.5 487.9M1886.1 487.9L1890.1 487.9M1888.7 487.9L1892.6 487.9M1891.2 487.9L1895.1 487.9M1893.7 487.9L1897.6 487.9M1896.2 487.9L1900.1 487.9M1898.7 487.9L1902.7 487.9M1901.3 487.9L1905.2 487.9M1903.8 487.9L1907.7 487.9M1906.3 487.9L1910.2 487.9M1908.8 487.9L1912.7 487.9M1911.3 487.9L1915.3 487.9M1913.9 487.9L1917.8 487.9M1916.4 487.9L1920.3 487.9M1918.9 487.9L1922.8 487.9M1921.4 487.9L1925.3 487.9M1923.9 487.9L1927.8 487.9M1926.4 487.9L1930.4 487.9M1929.0 487.9L1932.9 487.9M1931.5 487.9L1935.4 487.9M1934.0 487.9L1937.9 487.9M1936.5 487.9L1940.4 487.9M1939.0 487.9L1943.0 487.9M1941.6 487.9L1945.5 487.9M1944.1 487.9L1948.0 487.9M1946.6 487.9L1950.5 487.9M1949.1 487.9L1953.0 487.9M1951.6 487.9L1955.6 487.9M1954.2 487.9L1958.1 487.9M1956.7 487.9L1960.6 487.9M1959.2 487.9L1963.1 487.9M1961.7 487.9L1965.6 487.9M1964.2 487.9L1968.1 487.9M1966.7 487.9L1970.7 487.9M1969.3 487.9L1973.2 487.9M1971.8 487.9L1975.7 487.9M1974.3 487.9L1978.1 487.8M1976.7 487.9L1980.6 487.8M1979.2 487.8L1983.0 487.7M1981.6 487.8L1985.5 487.7M1984.1 487.7L1987.9 487.6M1986.5 487.6L1990.4 487.6M1989.0 487.6L1992.8 487.5M1991.4 487.5L1995.3 487.5M1993.9 487.5L1997.7 487.4M1996.3 487.4L2000.2 487.3M1998.8 487.4L2002.6 487.3M2001.2 487.3L2005.1 487.2M2003.7 487.3L2007.5 487.2M2006.1 487.2L2010.0 487.1M2008.7 487.5L2012.3 485.6M2011.1 486.2L2014.8 484.4M2013.5 485.0L2017.2 483.2M2015.9 483.8L2019.6 482.0M2018.4 482.6L2022.0 480.8M2020.8 481.4L2024.5 479.6M2023.2 480.2L2026.9 478.3M2025.6 479.0L2029.3 477.1M2028.7 477.4L2038.4 467.8M2037.7 468.1L2041.2 466.4M2039.9 467.0L2043.3 465.3M2042.1 465.9L2045.5 464.2M2044.1 464.6L2047.9 464.0M2046.6 464.2L2050.4 463.6M2049.0 463.8L2052.8 463.2M2051.4 463.4L2055.2 462.8M2054.5 462.9L2051.3 450.0M2050.9 450.5L2056.6 443.0M2055.7 444.0L2064.7 434.9M2063.6 435.7L2067.3 434.4M2066.0 434.8L2069.7 433.6M2068.4 434.0L2072.2 432.8M2070.8 433.2L2074.6 432.0M2073.3 432.6L2084.2 425.3M2083.2 426.3L2090.5 417.1M2089.4 417.8L2093.2 417.1M2091.8 417.4L2095.6 416.7M2094.2 417.0L2098.0 416.3M2096.7 416.6L2100.5 415.9M2099.8 416.0L2109.5 425.7M2109.5 425.7L2119.2 416.0M2119.2 416.0L2125.6 404.7M2125.1 405.1L2135.9 397.9M2135.3 398.3L2145.0 388.6M2145.0 388.6L2149.9 375.6M2149.4 376.1L2155.2 370.3M2154.7 370.8L2164.4 378.9M2164.4 378.9L2174.1 370.8M2173.4 370.7L2177.2 371.3M2175.9 371.1L2179.7 371.7M2178.3 371.5L2182.1 372.1M2180.7 371.9L2184.5 372.5M2183.1 372.3L2186.9 372.9M2185.5 372.7L2189.4 373.3M2188.0 373.1L2191.8 373.7M2190.4 373.5L2194.2 374.1M2193.0 373.6L2200.5 379.3M2199.5 379.4L2207.9 370.3" stroke="#0000ff" stroke-width="9.5" stroke-dasharray="14.7 3" stroke-linecap="butt"/>
</g>
<g stroke="#000" fill="none" stroke-linecap="butt">
<line x1="305.0" y1="113.0" x2="305.0" y2="1050.0" stroke-width="4"/>
<line x1="303.0" y1="1048.0" x2="2208.0" y2="1048.0" stroke-width="4"/>
<line x1="305.0" y1="954.7" x2="350.0" y2="954.7" stroke-width="3.6"/>
<line x1="305.0" y1="861.4" x2="350.0" y2="861.4" stroke-width="3.6"/>
<line x1="305.0" y1="768.1" x2="350.0" y2="768.1" stroke-width="3.6"/>
<line x1="305.0" y1="674.8" x2="350.0" y2="674.8" stroke-width="3.6"/>
<line x1="305.0" y1="581.5" x2="350.0" y2="581.5" stroke-width="3.6"/>
<line x1="305.0" y1="488.2" x2="350.0" y2="488.2" stroke-width="3.6"/>
<line x1="305.0" y1="394.9" x2="350.0" y2="394.9" stroke-width="3.6"/>
<line x1="305.0" y1="301.6" x2="350.0" y2="301.6" stroke-width="3.6"/>
<line x1="305.0" y1="208.3" x2="350.0" y2="208.3" stroke-width="3.6"/>
<line x1="305.0" y1="115.0" x2="350.0" y2="115.0" stroke-width="3.6"/>
<line x1="305.5" y1="1048.0" x2="305.5" y2="1118" stroke-width="1.1"/>
<line x1="375.5" y1="1048.0" x2="375.5" y2="1118" stroke-width="1.1"/>
<line x1="453.5" y1="1048.0" x2="453.5" y2="1118" stroke-width="1.1"/>
<line x1="529.5" y1="1048.0" x2="529.5" y2="1118" stroke-width="1.1"/>
<line x1="607.5" y1="1048.0" x2="607.5" y2="1118" stroke-width="1.1"/>
<line x1="682.5" y1="1048.0" x2="682.5" y2="1118" stroke-width="1.1"/>
<line x1="761.5" y1="1048.0" x2="761.5" y2="1118" stroke-width="1.1"/>
<line x1="839.5" y1="1048.0" x2="839.5" y2="1118" stroke-width="1.1"/>
<line x1="914.5" y1="1048.0" x2="914.5" y2="1118" stroke-width="1.1"/>
<line x1="992.5" y1="1048.0" x2="992.5" y2="1118" stroke-width="1.1"/>
<line x1="1068.5" y1="1048.0" x2="1068.5" y2="1118" stroke-width="1.1"/>
<line x1="1146.0" y1="1048.0" x2="1146.0" y2="1118" stroke-width="3.4"/>
<line x1="1224.5" y1="1048.0" x2="1224.5" y2="1118" stroke-width="1.1"/>
<line x1="1295.5" y1="1048.0" x2="1295.5" y2="1118" stroke-width="1.1"/>
<line x1="1373.5" y1="1048.0" x2="1373.5" y2="1118" stroke-width="1.1"/>
<line x1="1449.5" y1="1048.0" x2="1449.5" y2="1118" stroke-width="1.1"/>
<line x1="1527.5" y1="1048.0" x2="1527.5" y2="1118" stroke-width="1.1"/>
<line x1="1602.5" y1="1048.0" x2="1602.5" y2="1118" stroke-width="1.1"/>
<line x1="1680.5" y1="1048.0" x2="1680.5" y2="1118" stroke-width="1.1"/>
<line x1="1758.5" y1="1048.0" x2="1758.5" y2="1118" stroke-width="1.1"/>
<line x1="1834.5" y1="1048.0" x2="1834.5" y2="1118" stroke-width="1.1"/>
<line x1="1912.5" y1="1048.0" x2="1912.5" y2="1118" stroke-width="1.1"/>
<line x1="1988.5" y1="1048.0" x2="1988.5" y2="1118" stroke-width="1.1"/>
<line x1="2066.0" y1="1048.0" x2="2066.0" y2="1118" stroke-width="3.4"/>
<line x1="2144.5" y1="1048.0" x2="2144.5" y2="1118" stroke-width="1.1"/>
</g>
<polygon points="314.7,823.4 327.1,810.8 339.5,823.4 327.1,836.0" fill="none" stroke="#000" stroke-width="6.6" stroke-linejoin="miter"/>
<polygon points="339.8,861.2 352.2,848.6 364.6,861.2 352.2,873.8" fill="none" stroke="#000" stroke-width="6.6" stroke-linejoin="miter"/>
<polygon points="362.5,861.2 374.9,848.6 387.3,861.2 374.9,873.8" fill="none" stroke="#000" stroke-width="6.6" stroke-linejoin="miter"/>
<polygon points="382.9,852.4 395.3,839.8 407.7,852.4 395.3,865.0" fill="none" stroke="#000" stroke-width="6.6" stroke-linejoin="miter"/>
<polygon points="411.2,861.2 423.6,848.6 436.0,861.2 423.6,873.8" fill="none" stroke="#000" stroke-width="6.6" stroke-linejoin="miter"/>
<polygon points="436.4,805.2 448.8,792.6 461.2,805.2 448.8,817.8" fill="none" stroke="#000" stroke-width="6.6" stroke-linejoin="miter"/>
<polygon points="463.8,488.5 476.2,475.9 488.6,488.5 476.2,501.1" fill="none" stroke="#000" stroke-width="6.6" stroke-linejoin="miter"/>
<polygon points="1086.6,488.8 1099.0,476.2 1111.4,488.8 1099.0,501.4" fill="none" stroke="#000" stroke-width="6.6" stroke-linejoin="miter"/>
<polygon points="1108.6,488.8 1121.0,476.2 1133.4,488.8 1121.0,501.4" fill="none" stroke="#000" stroke-width="6.6" stroke-linejoin="miter"/>
<polygon points="1121.6,488.8 1134.0,476.2 1146.4,488.8 1134.0,501.4" fill="none" stroke="#000" stroke-width="6.6" stroke-linejoin="miter"/>
<polygon points="1157.0,703.1 1169.4,690.5 1181.8,703.1 1169.4,715.7" fill="none" stroke="#000" stroke-width="6.6" stroke-linejoin="miter"/>
<polygon points="1179.5,721.4 1191.9,708.8 1204.3,721.4 1191.9,734.0" fill="none" stroke="#000" stroke-width="6.6" stroke-linejoin="miter"/>
<polygon points="1207.3,730.8 1219.7,718.2 1232.1,730.8 1219.7,743.4" fill="none" stroke="#000" stroke-width="6.6" stroke-linejoin="miter"/>
<polygon points="1232.5,777.5 1244.9,764.9 1257.3,777.5 1244.9,790.1" fill="none" stroke="#000" stroke-width="6.6" stroke-linejoin="miter"/>
<polygon points="1262.6,823.8 1275.0,811.2 1287.4,823.8 1275.0,836.4" fill="none" stroke="#000" stroke-width="6.6" stroke-linejoin="miter"/>
<path d="M327.4 465.8V491.4M314.2 468.5L340.6 488.7M314.2 488.7L340.6 468.5" fill="none" stroke="#000" stroke-width="6.7" stroke-linecap="butt"/>
<path d="M352.9 428.4V454.0M339.7 431.1L366.1 451.3M339.7 451.3L366.1 431.1" fill="none" stroke="#000" stroke-width="6.7" stroke-linecap="butt"/>
<path d="M375.7 465.8V491.4M362.5 468.5L388.9 488.7M362.5 488.7L388.9 468.5" fill="none" stroke="#000" stroke-width="6.7" stroke-linecap="butt"/>
<path d="M395.3 475.2V500.8M382.1 477.9L408.5 498.1M382.1 498.1L408.5 477.9" fill="none" stroke="#000" stroke-width="6.7" stroke-linecap="butt"/>
<path d="M423.3 446.9V472.5M410.1 449.6L436.5 469.8M410.1 469.8L436.5 449.6" fill="none" stroke="#000" stroke-width="6.7" stroke-linecap="butt"/>
<path d="M448.7 475.2V500.8M435.5 477.9L461.9 498.1M435.5 498.1L461.9 477.9" fill="none" stroke="#000" stroke-width="6.7" stroke-linecap="butt"/>
<path d="M476.2 475.2V500.8M463.0 477.9L489.4 498.1M463.0 498.1L489.4 477.9" fill="none" stroke="#000" stroke-width="6.7" stroke-linecap="butt"/>
<path d="M1099.0 475.7V501.3M1085.8 478.4L1112.2 498.6M1085.8 498.6L1112.2 478.4" fill="none" stroke="#000" stroke-width="6.7" stroke-linecap="butt"/>
<path d="M1121.0 475.7V501.3M1107.8 478.4L1134.2 498.6M1107.8 498.6L1134.2 478.4" fill="none" stroke="#000" stroke-width="6.7" stroke-linecap="butt"/>
<path d="M1134.0 475.7V501.3M1120.8 478.4L1147.2 498.6M1120.8 498.6L1147.2 478.4" fill="none" stroke="#000" stroke-width="6.7" stroke-linecap="butt"/>
<path d="M1169.0 410.4V436.0M1155.8 413.1L1182.2 433.3M1155.8 433.3L1182.2 413.1" fill="none" stroke="#000" stroke-width="6.7" stroke-linecap="butt"/>
<path d="M1191.7 419.2V444.8M1178.5 421.9L1204.9 442.1M1178.5 442.1L1204.9 421.9" fill="none" stroke="#000" stroke-width="6.7" stroke-linecap="butt"/>
<path d="M1219.3 382.1V407.7M1206.1 384.8L1232.5 405.0M1206.1 405.0L1232.5 384.8" fill="none" stroke="#000" stroke-width="6.7" stroke-linecap="butt"/>
<path d="M1244.9 363.2V388.8M1231.7 365.9L1258.1 386.1M1231.7 386.1L1258.1 365.9" fill="none" stroke="#000" stroke-width="6.7" stroke-linecap="butt"/>
<path d="M1275.3 316.9V342.5M1262.1 319.6L1288.5 339.8M1262.1 339.8L1288.5 319.6" fill="none" stroke="#000" stroke-width="6.7" stroke-linecap="butt"/>
<polyline points="304.1,567.4 385.9,567.4 390.6,563.4 392.2,554.0 433.0,554.0 436.2,547.7 440.9,539.9 443.2,517.9 445.6,497.4 448.7,488.8 1100.0,488.8 1102.1,494.9 1104.5,488.8 1136.4,488.8 1141.9,500.5 1181.8,500.5 1185.8,502.4 1285.5,502.4 1288.5,503.9 1333.5,503.9 1335.0,502.8 1361.0,502.8 1367.8,495.8 1397.5,495.8 1402.2,488.8 1988.0,488.8 2001.0,494.5 2011.1,504.6 2021.2,513.2 2027.0,527.6 2032.8,544.4 2045.7,544.9 2052.9,552.1 2060.1,556.5 2054.1,553.4 2060.1,557.4 2068.1,558.4 2073.2,563.4 2076.2,570.5 2084.2,577.5 2088.2,579.5 2109.3,579.5 2115.4,582.9 2128.4,583.5 2134.5,587.6 2143.5,590.6 2149.5,597.6 2154.5,604.6 2160.6,612.7 2170.6,615.7 2178.7,619.7 2186.7,625.7 2192.7,634.8 2195.7,638.4 2207.4,638.4" fill="none" stroke="#ff00ff" stroke-width="6" stroke-linecap="butt" stroke-linejoin="round"/>
<text x="305.2" y="87.2" font-size="56.5">Jää ja lumi,14 821 Jääsjärvi</text>
<text x="241" y="1059.2" dx="0 -3.6" font-size="56.5" text-anchor="end">-60</text>
<text x="241" y="965.9" dx="0 -3.6" font-size="56.5" text-anchor="end">-50</text>
<text x="241" y="872.6" dx="0 -3.6" font-size="56.5" text-anchor="end">-40</text>
<text x="241" y="779.3" dx="0 -3.6" font-size="56.5" text-anchor="end">-30</text>
<text x="241" y="686.0" dx="0 -3.6" font-size="56.5" text-anchor="end">-20</text>
<text x="241" y="592.7" dx="0 -3.6" font-size="56.5" text-anchor="end">-10</text>
<text x="240.6" y="499.4" font-size="56.5" text-anchor="end">0</text>
<text x="240.6" y="406.1" font-size="56.5" text-anchor="end">10</text>
<text x="240.6" y="312.8" font-size="56.5" text-anchor="end">20</text>
<text x="240.6" y="219.5" font-size="56.5" text-anchor="end">30</text>
<text x="240.6" y="126.2" font-size="56.5" text-anchor="end">40</text>
<text transform="translate(99.5,980.8) rotate(-90)" font-size="49.6">Jää ja lumi / Ice and snow&#160;&#160;&#160;&#160;cm</text>
<text x="317.9" y="1120.3" font-size="35.4">II</text>
<text x="388.5" y="1120.3" font-size="35.4">III</text>
<text x="466.6" y="1120.3" font-size="35.4">IV</text>
<text x="551.9" y="1120.3" font-size="35.4">V</text>
<text x="620.3" y="1120.3" font-size="35.4">VI</text>
<text x="695.9" y="1120.3" font-size="35.4">VII</text>
<text x="763.7" y="1120.3" font-size="35.4">VIII</text>
<text x="852.1" y="1120.3" font-size="35.4">IX</text>
<text x="937.4" y="1120.3" font-size="35.4">X</text>
<text x="1005.8" y="1120.3" font-size="35.4">XI</text>
<text x="1081.4" y="1120.3" font-size="35.4">XII</text>
<text x="1169.2" y="1120.3" font-size="35.4">I</text>
<text x="1237.7" y="1120.3" font-size="35.4">II</text>
<text x="1308.2" y="1120.3" font-size="35.4">III</text>
<text x="1386.3" y="1120.3" font-size="35.4">IV</text>
<text x="1471.6" y="1120.3" font-size="35.4">V</text>
<text x="1540.1" y="1120.3" font-size="35.4">VI</text>
<text x="1615.6" y="1120.3" font-size="35.4">VII</text>
<text x="1683.5" y="1120.3" font-size="35.4">VIII</text>
<text x="1771.9" y="1120.3" font-size="35.4">IX</text>
<text x="1857.2" y="1120.3" font-size="35.4">X</text>
<text x="1925.6" y="1120.3" font-size="35.4">XI</text>
<text x="2001.2" y="1120.3" font-size="35.4">XII</text>
<text x="2089.0" y="1120.3" font-size="35.4">I</text>
<text x="2157.4" y="1120.3" font-size="35.4">II</text>
<text x="308" y="1166" font-size="35.4">2025</text>
<text x="1149.6" y="1166" font-size="35.4">2026</text>
<text x="2069.4" y="1166" font-size="35.4">2027</text>
<text x="2222.5" y="1140" font-size="35.4">26-Feb-2026 14:12 WSFS-P</text>
<text x="2222.3" y="84.0" font-size="35.4">Lumen syvyys jäällä</text>
<text x="2222.3" y="126.4" font-size="35.4">Simuloitu ja keskiennuste</text>
<line x1="2224" y1="144" x2="2541" y2="144" stroke="#0000ff" stroke-width="9.5" stroke-dasharray="14.7 3" stroke-dashoffset="6.3"/>
<text x="2222.3" y="201.5" font-size="35.4">Jään paksuus</text>
<text x="2222.3" y="243.4" font-size="35.4">Simuloitu ja keskiennuste</text>
<line x1="2223" y1="260.4" x2="2541" y2="260.4" stroke="#0000ff" stroke-width="13"/>
<polygon points="2212.0,306.5 2224.4,293.9 2236.8,306.5 2224.4,319.1" fill="none" stroke="#000" stroke-width="6.6" stroke-linejoin="miter"/>
<text transform="translate(2240.3,322.6) scale(0.64,1)" font-size="41.5" style="font-family:'DejaVu Sans',sans-serif;font-weight:200">=</text>
<text x="2262.3" y="318.0" font-size="35.4">Jäähavainto</text>
<text x="2222.3" y="360.0" font-size="35.4">14801 Jääsjärvi, Hartola</text>
<path d="M2223.5 395.0V420.6M2210.3 397.7L2236.7 417.9M2210.3 417.9L2236.7 397.7" fill="none" stroke="#000" stroke-width="6.7" stroke-linecap="butt"/>
<text transform="translate(2240.3,422.6) scale(0.64,1)" font-size="41.5" style="font-family:'DejaVu Sans',sans-serif;font-weight:200">=</text>
<text x="2260.9" y="418.0" font-size="35.4">Lumen syvyys jäällä</text>
<text x="2222.3" y="461.0" font-size="35.4">havainto</text>
<text x="2222.3" y="519.5" font-size="35.4">Ennusteen vaihteluväli</text>
<line x1="2223" y1="536.5" x2="2541" y2="536.5" stroke="#ffff00" stroke-width="13"/>
<text x="2222.3" y="593.7" font-size="35.4">5-95% vaihteluväli</text>
<line x1="2223" y1="610.6" x2="2541" y2="610.6" stroke="#ff0000" stroke-width="13"/>
<text x="2222.3" y="668.6" font-size="35.4">25-75% vaihteluväli</text>
<line x1="2223" y1="684.6" x2="2541" y2="684.6" stroke="#00ff00" stroke-width="13"/>
<text x="2222.3" y="740.7" font-size="35.4">Kohvajää</text>
<line x1="2223" y1="758" x2="2541" y2="758" stroke="#ff00ff" stroke-width="5.6"/>
<text x="2222.3" y="814.5" font-size="35.4">Ennusteen alku</text>
<line x1="2223" y1="832" x2="2541" y2="832" stroke="#00ffff" stroke-width="9.8" stroke-dasharray="14.8 13.6"/>
</svg></body></html>
